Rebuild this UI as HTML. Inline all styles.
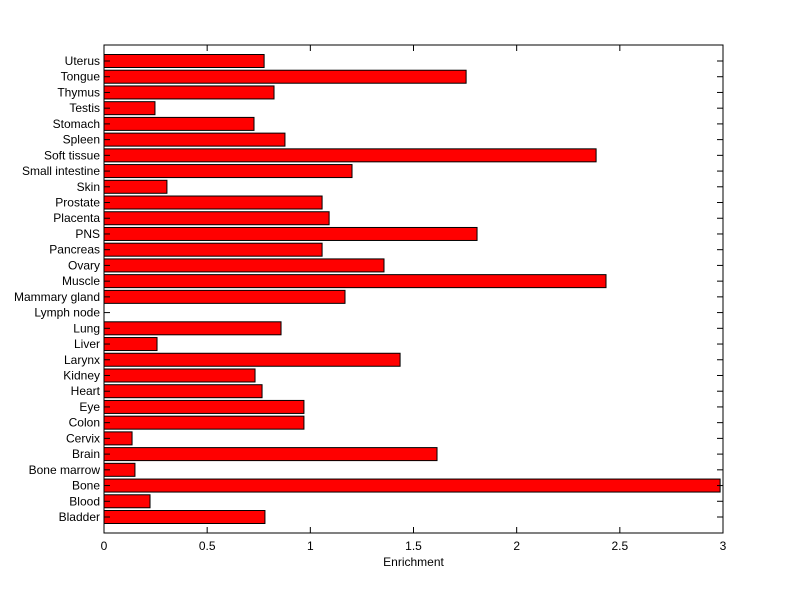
<!DOCTYPE html>
<html><head><meta charset="utf-8"><style>
body{margin:0;background:#fff;}
svg text{font-family:"Liberation Sans",Arial,sans-serif;font-size:12px;fill:#000;}
</style></head><body>
<svg id="chart" width="800" height="599" xmlns="http://www.w3.org/2000/svg">
<rect x="0" y="0" width="800" height="599" fill="#fff"/>
<g id="plot"></g>
</svg>
<script>
const categories=["Bladder","Blood","Bone","Bone marrow","Brain","Cervix","Colon","Eye","Heart","Kidney","Larynx","Liver","Lung","Lymph node","Mammary gland","Muscle","Ovary","Pancreas","PNS","Placenta","Prostate","Skin","Small intestine","Soft tissue","Spleen","Stomach","Testis","Thymus","Tongue","Uterus"];
const values=[0.78,0.223,2.986,0.15,1.614,0.136,0.969,0.969,0.766,0.732,1.435,0.257,0.858,0,1.168,2.433,1.357,1.057,1.808,1.091,1.057,0.305,1.202,2.385,0.877,0.727,0.247,0.824,1.755,0.776];
const xTicks=[0,0.5,1,1.5,2,2.5,3];
const xTickLabels=["0","0.5","1","1.5","2","2.5","3"];

const NS="http://www.w3.org/2000/svg";
const L=104,R=723,T=45,B=533;
const xMax=3;
const x=v=>L+(v/xMax)*(R-L);
const yBottom=517,yTop=61;
const step=(yBottom-yTop)/(categories.length-1);
const y=i=>yBottom-i*step;
const g=document.getElementById('plot');
function mk(tag,attrs){const e=document.createElementNS(NS,tag);for(const k in attrs)e.setAttribute(k,attrs[k]);g.appendChild(e);return e;}

categories.forEach((c,i)=>{
  const cy=y(i);
  if(values[i]>0){
    const b=mk('rect',{x:x(0),y:cy-6.5,width:x(values[i])-x(0),height:13,fill:'#ff0000',stroke:'#000','stroke-width':1});
    
    
  }
  const t=mk('text',{x:L-4,y:cy+4,'text-anchor':'end'});
  t.textContent=c;
  
  
  mk('line',{x1:L,x2:L+6,y1:cy,y2:cy,stroke:'#000'});
  mk('line',{x1:R-6,x2:R,y1:cy,y2:cy,stroke:'#000'});
});
const frame=mk('rect',{x:L,y:T,width:R-L,height:B-T,fill:'none',stroke:'#000','stroke-width':1});


xTicks.forEach((v,i)=>{
  const px=x(v);
  mk('line',{x1:px,x2:px,y1:B,y2:B-6,stroke:'#000'});
  mk('line',{x1:px,x2:px,y1:T,y2:T+6,stroke:'#000'});
  const t=mk('text',{x:px,y:B+17,'text-anchor':'middle'});
  t.textContent=xTickLabels[i];
  
  
});
const xt=mk('text',{x:(L+R)/2,y:566,'text-anchor':'middle'});
xt.textContent='Enrichment';


</script>
</body></html>
